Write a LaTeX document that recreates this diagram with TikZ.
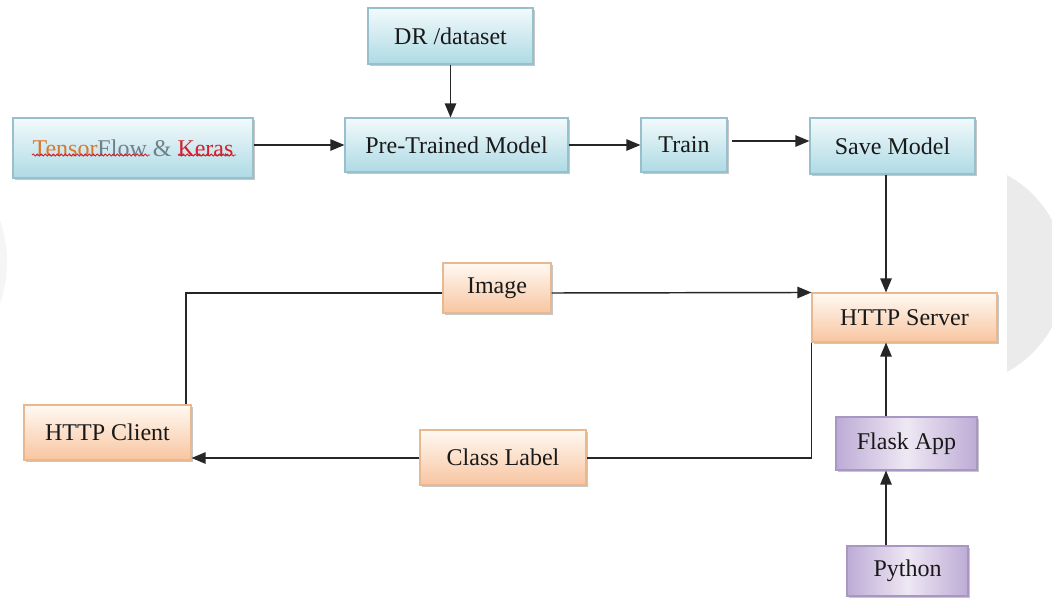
\documentclass[tikz,border=0pt]{standalone}
\usepackage{fontspec}
\setmainfont{Liberation Serif}
\usetikzlibrary{arrows.meta,shadows,decorations.pathmorphing}
\definecolor{bT}{HTML}{F2FAFC}
\definecolor{bB}{HTML}{AEDAE4}
\definecolor{bD}{HTML}{98C0CC}
\definecolor{oT}{HTML}{FFF9F3}
\definecolor{oB}{HTML}{F8C5A0}
\definecolor{oD}{HTML}{E8B890}
\definecolor{pE}{HTML}{BDABD5}
\definecolor{pM}{HTML}{EEE8F4}
\definecolor{pD}{HTML}{A897C3}
\definecolor{tfO}{HTML}{D9782C}
\definecolor{tfG}{HTML}{6F8089}
\definecolor{tfR}{HTML}{D4202C}
\begin{document}
\begin{tikzpicture}[x=0.75pt,y=-0.75pt,
  sz/.style 2 args={minimum width=#1*0.75pt, minimum height=#2*0.75pt},
  box/.style={rectangle, line width=0.8pt, inner sep=0pt,
    font=\fontsize{18}{21}\selectfont, text=black!90,
    drop shadow={shadow xshift=1.5pt, shadow yshift=-1.5pt, fill=black, opacity=0.22}},
  bluebox/.style={box, draw=bD, top color=bT, bottom color=bB},
  orangebox/.style={box, draw=oD, top color=oT, bottom color=oB},
  purplebox/.style={box, draw=pD, left color=pE, right color=pE, middle color=pM},
  arr/.style={-{Triangle[length=10.5pt,width=8.5pt]}, line width=1.1pt, black!85},
  ln/.style={line width=1.1pt, black!85},
  squig/.style={tfR, line width=0.6pt, decorate, decoration={snake, amplitude=0.8pt, segment length=3pt}}
]
\fill[white] (0,0) rectangle (1052,597);
\useasboundingbox (0,0) rectangle (1052,597);
\begin{scope}
  \clip (1007,0) rectangle (1052,597);
  \fill[black!8] (953.5,273.5) circle[radius=112];
\end{scope}
\begin{scope}
  \clip (0,0) rectangle (10,597);
  \fill[black!4] (-120,262) circle[radius=127];
\end{scope}

\node[bluebox, sz={165}{56}] (DR) at (450.5,36) {DR /dataset};
\node[bluebox, sz={240}{60}] (TF) at (133,148) {{\color{tfO}Tensor}{\color{tfG}Flow \& }{\color{tfR}Keras}};
\node[bluebox, sz={223}{54}] (PTM) at (456.5,145) {Pre-Trained Model};
\node[bluebox, sz={86}{54}] (Train) at (684,145) {Train};
\node[bluebox, sz={165}{56}] (Save) at (892.5,146) {Save Model};
\node[orangebox, sz={185}{49}] (Server) at (904.5,317.5) {HTTP Server};
\node[orangebox, sz={108}{50}] (Image) at (497,288) {Image};
\node[orangebox, sz={166}{55}] (Class) at (503,457.5) {Class Label};
\node[orangebox, sz={167}{55}] (Client) at (107.5,432.5) {HTTP Client};
\node[purplebox, sz={141}{53}] (Flask) at (906.5,443.5) {Flask App};
\node[purplebox, sz={121}{50}] (Python) at (907.5,571) {Python};

\draw[squig] (32,155) -- (150,155);
\draw[squig] (178,155) -- (236,155);

\coordinate (vx) at (886,0);
\coordinate (cx) at (186,293);
\coordinate (dy) at (0,458);
\coordinate (ty) at (0,141);

\draw[arr] (DR.south) -- (DR.south |- PTM.north);
\draw[arr] (TF.east |- PTM) -- (PTM.west);
\draw[arr] (PTM.east) -- (Train.west);
\draw[arr] ([xshift=3pt]Train.east |- ty) -- (Save.west |- ty);
\draw[arr] (Save.south -| vx) -- (Server.north -| vx);
\draw[ln] (Client.north -| cx) -- (cx) -- (Image.west |- cx);
\draw[arr] (Image.east |- cx) -- (Server.north west);
\draw[ln] (Server.south west) -- (Server.south west |- dy) -- (Class.east |- dy);
\draw[arr] (Class.west |- dy) -- (Client.east |- dy);
\draw[arr] (Flask.north -| vx) -- (Server.south -| vx);
\draw[arr] (Python.north -| vx) -- (Flask.south -| vx);
\end{tikzpicture}
\end{document}
